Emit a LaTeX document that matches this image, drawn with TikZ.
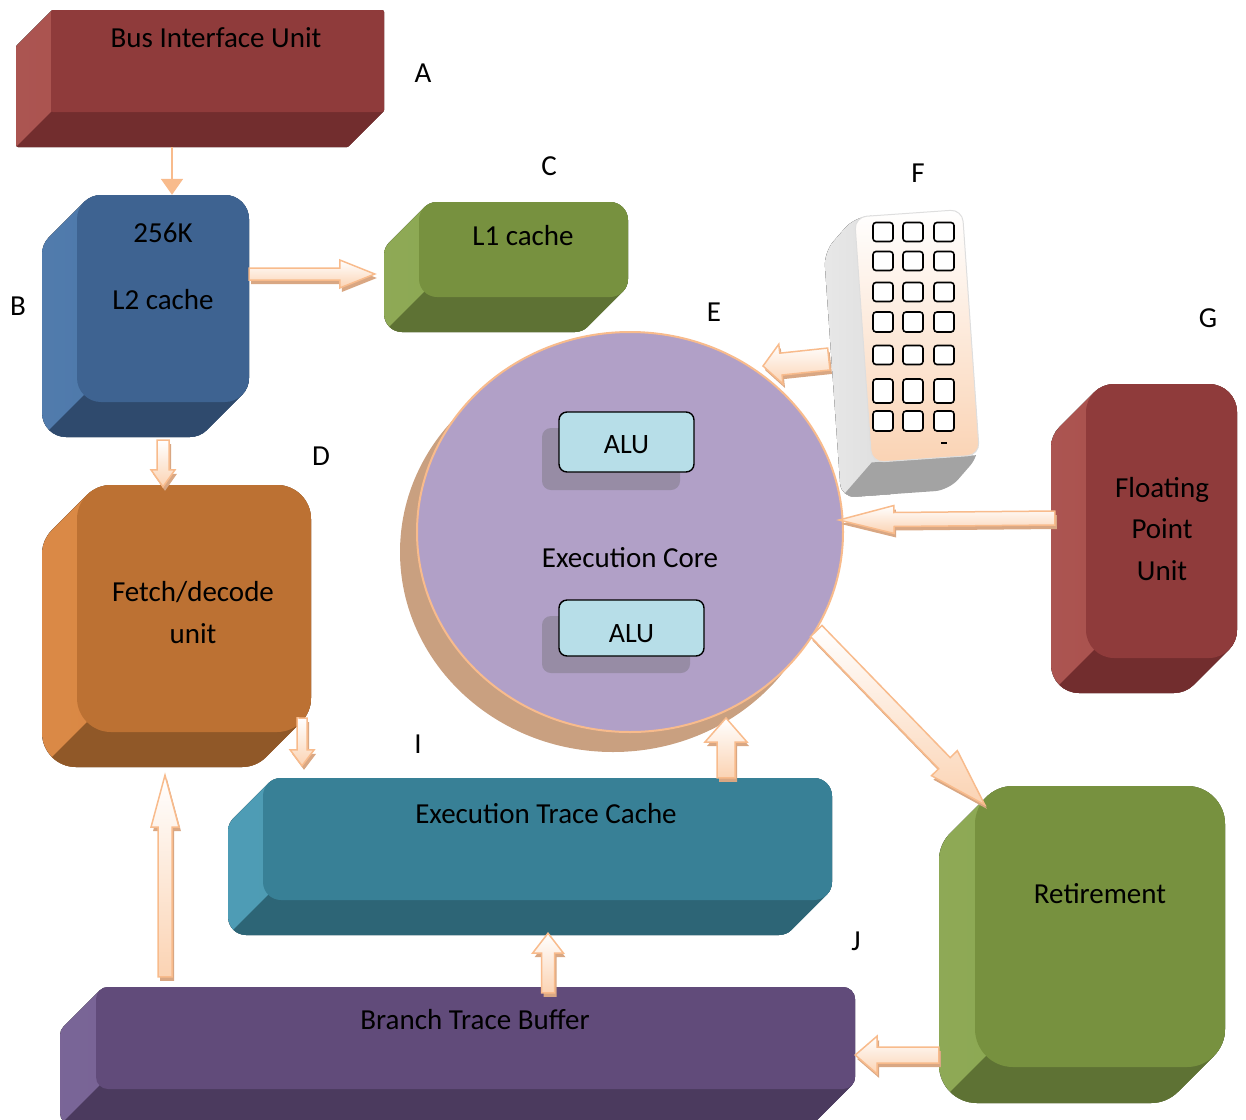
\documentclass[tikz,border=0pt]{standalone}
\usepackage{fontspec}
\setmainfont{Carlito}
\usetikzlibrary{calc,shapes.geometric,arrows.meta}

% face colours of the bevelled blocks: front (F), left side (S), bottom (B)
\definecolor{redF}{HTML}{8F3B3B}
\definecolor{redS}{HTML}{A64A46}
\definecolor{redB}{HTML}{722D2E}
\definecolor{blueF}{HTML}{3E6391}
\definecolor{blueS}{HTML}{4673A7}
\definecolor{blueB}{HTML}{2F4A6D}
\definecolor{greenF}{HTML}{77913F}
\definecolor{greenS}{HTML}{87A44B}
\definecolor{greenB}{HTML}{5E7234}
\definecolor{orangeF}{HTML}{BC7133}
\definecolor{orangeS}{HTML}{D8823B}
\definecolor{orangeB}{HTML}{905828}
\definecolor{tealF}{HTML}{388096}
\definecolor{tealS}{HTML}{4396B0}
\definecolor{tealB}{HTML}{2D6576}
\definecolor{purpleF}{HTML}{614B7A}
\definecolor{purpleS}{HTML}{715B90}
\definecolor{purpleB}{HTML}{4B3A5E}
% arrows, execution core, register file
\definecolor{arrowline}{HTML}{F8BB8C}
\definecolor{arrowfill}{HTML}{FBD3B3}
\definecolor{arrowshadow}{HTML}{D9A783}
\definecolor{coreF}{HTML}{B1A0C7}
\definecolor{coreS}{HTML}{C9A080}
\definecolor{aluF}{HTML}{B7DEE8}
\definecolor{aluS}{HTML}{978CA5}
\definecolor{regF}{HTML}{FAD3B4}
\definecolor{regS}{HTML}{DEDEDE}
\definecolor{regB}{HTML}{A3A3A3}

% bevelled block: name, x0, y0, x1, y1 (outer extent), depth, corner radius, colour family
% the outline is the hull of the front face and its copy shifted by (-depth, +depth)
\newcommand\bevelbox[8]{%
  \pgfmathsetmacro\bvk{0.7071*#7}%
  \def\bvhull{({#2+#6+#7},{#3}) -- ({#4-#7},{#3}) arc[start angle=270, end angle=360, radius=#7]
    -- ({#4},{#5-#6-#7}) arc[start angle=0, end angle=45, radius=#7]
    -- ++({-#6},{#6}) arc[start angle=45, end angle=90, radius=#7]
    -- ({#2+#7},{#5}) arc[start angle=90, end angle=180, radius=#7]
    -- ({#2},{#3+#6+#7}) arc[start angle=180, end angle=225, radius=#7]
    -- ++({#6},{-#6}) arc[start angle=225, end angle=270, radius=#7] -- cycle}%
  \fill[left color=#8S!94!white, right color=#8S] \bvhull;
  \begin{scope}
    \clip \bvhull;
    \fill[#8B] ({#2+#6+#7-\bvk},{#5-#6-#7+\bvk}) -- ++({-#6},{#6}) -- ({#2-5},{#5+5})
      -- ({#4+5},{#5+5}) -- ({#4+5},{#5-#6-#7}) -- ({#2+#6+#7-\bvk},{#5-#6-#7}) -- cycle;
  \end{scope}
  \fill[#8F, rounded corners=#7] ({#2+#6},{#3}) rectangle ({#4},{#5-#6});
  \node[minimum width={#4-#2}, minimum height={#5-#3}] (#1) at ({(#2+#4)/2},{(#3+#5)/2}) {};
}

% outline of a block arrow from (ba-t) to (ba-h), head base at (ba-c)
\newcommand\baoutline[2]{($(ba-t)!#1!90:(ba-h)$) -- ($(ba-c)!#1!90:(ba-h)$) -- ($(ba-c)!#2!90:(ba-h)$)
  -- (ba-h) -- ($(ba-c)!#2!-90:(ba-h)$) -- ($(ba-c)!#1!-90:(ba-h)$) -- ($(ba-t)!#1!-90:(ba-h)$) -- cycle}
% block arrow: tail, tip, half shaft width, half head width, head length
\newcommand\blockarrow[5]{%
  \coordinate (ba-t) at (#1);
  \coordinate (ba-h) at (#2);
  \coordinate (ba-c) at ($(ba-h)!#5!(ba-t)$);
  \fill[arrowshadow, transform canvas={xshift=2pt,yshift=-4pt}] \baoutline{#3}{#4};
  \draw[arrowbody] \baoutline{#3}{#4};
}

\begin{document}
\begin{tikzpicture}[x=1pt,y=-1pt,
  every node/.style={font=\fontsize{29}{35}\selectfont, inner sep=0pt},
  txt/.style={anchor=base, text=black},
  arrowbody/.style={draw=arrowline, line width=1.5pt, top color=white, bottom color=arrowfill},
  alubox/.style={draw=black, line width=1.4pt, fill=aluF, rounded corners=8pt},
  regcell/.style={draw=black, line width=1.6pt, fill=white, rounded corners=3pt}]

\useasboundingbox (0,0) rectangle (1246,1119);
\clip (0,0) rectangle (1246,1119);

% bevelled blocks
\bevelbox{bus}{16}{10}{384}{147}{35}{2}{red}
\bevelbox{l2}{42}{195}{249}{437}{35}{24}{blue}
\bevelbox{l1}{384}{202}{628}{332}{35}{18}{green}
\bevelbox{fetch}{42}{485}{311}{767}{35}{34}{orange}
\bevelbox{trace}{228}{778}{832}{935}{35}{18}{teal}
\bevelbox{branch}{60}{987}{855}{1125}{36}{12}{purple}
\bevelbox{fpu}{1051}{384}{1237}{693}{35}{28}{red}
\bevelbox{ret}{939}{786}{1225}{1103}{36}{38}{green}

% block texts
\node[txt] (t-bus) at (216,47) {Bus Interface Unit};
\node[txt] (t-l2a) at (163,242) {256K};
\node[txt] (t-l2b) at (163,309) {L2 cache};
\node[txt] (t-l1) at (523,245) {L1 cache};
\node[txt] (t-fetcha) at (193,601) {Fetch/decode};
\node[txt] (t-fetchb) at (193,643) {unit};
\node[txt] (t-trace) at (546,823) {Execution Trace Cache};
\node[txt] (t-branch) at (475,1029) {Branch Trace Buffer};
\node[txt] (t-fpua) at (1162,497) {Floating};
\node[txt] (t-fpub) at (1162,538) {Point};
\node[txt] (t-fpuc) at (1162,580) {Unit};
\node[txt] (t-ret) at (1100,903) {Retirement};

% execution core with its two ALUs
\fill[coreS] (613,552) ellipse [x radius=213, y radius=200];
\node[ellipse, fill=coreF, draw=arrowline, line width=2pt, minimum width=426, minimum height=400] (core) at (630,532) {};
\node[txt] (t-core) at (630,567) {Execution Core};
\fill[aluS, rounded corners=9pt] (542,428) rectangle (680,490);
\node[alubox, minimum width=135, minimum height=60] (alu1) at (626.5,442) {};
\node[txt, font=\fontsize{28}{34}\selectfont] (t-alu1) at (626.5,453) {ALU};
\fill[aluS, rounded corners=9pt] (542,616) rectangle (690,673);
\node[alubox, minimum width=145, minimum height=56] (alu2) at (631.5,628) {};
\node[txt, font=\fontsize{28}{34}\selectfont] (t-alu2) at (631.5,642) {ALU};

% register file outline (used for the connector)
\node[minimum width=157, minimum height=287] (regs) at (901.5,351.5) {};

% connectors
\draw[arrowline, line width=2pt, -{Triangle[width=22pt,length=16pt]}] (bus.south -| 172,0) -- (l2.north -| 172,0);
\blockarrow{l2.east |- 0,274}{$(l1.west |- 0,274)+(-9,0)$}{6pt}{14pt}{35pt}
\blockarrow{$(l2.south -| 163,0)+(0,3)$}{$(fetch.north -| 163,0)+(0,2)$}{6pt}{12pt}{17pt}
\blockarrow{$(fetch.east |- 0,718)+(-9,0)$}{$(trace.north -| 302,0)+(0,-12)$}{5pt}{12pt}{16pt}
\blockarrow{trace.north -| 726,0}{$(core.south -| 726,0)+(0,-15)$}{9pt}{21pt}{24pt}
\blockarrow{$(branch.north -| 548,0)+(0,6)$}{$(trace.south -| 548,0)+(0,-2)$}{6.5pt}{15.5pt}{20pt}
\blockarrow{$(branch.north -| 165,0)+(0,-10)$}{$(fetch.south -| 165,0)+(0,8)$}{7pt}{14pt}{52pt}
\blockarrow{$(regs.west |- 0,359)+(6,0)$}{$(core.center)+(133,-166)$}{11pt}{20pt}{18pt}
\blockarrow{$(fpu.west |- 0,518)+(4,0)$}{$(core.east |- 0,520)+(-5,0)$}{7pt}{14pt}{55pt}
\blockarrow{core.-28}{$(ret.north west)+(46,19)$}{8pt}{18pt}{58pt}
\blockarrow{ret.west |- 0,1055}{branch.east |- 0,1055}{8pt}{19pt}{22pt}

% register file block, slightly tilted
\begin{scope}[rotate around={4:(917,336)}]
  \begin{scope}
    \clip[rounded corners=14pt] (830,246) -- (863,213) -- (971,213) -- (971,459) -- (938,492) -- (830,492) -- cycle;
    \fill[left color=regS!70!white, right color=regS] (830,213) rectangle (880,492);
    \fill[regB] (863,459) -- (971,459) -- (971,492) -- (830,492) -- cycle;
  \end{scope}
  \draw[draw=regS, line width=1pt, top color=white, bottom color=regF, rounded corners=12pt] (863,213) rectangle (971,459);
\end{scope}
\foreach \x in {883,913,944}
  \foreach \y/\h in {232/19,261/19,292/19,322/20,355/19,391/24,421/20}
    \draw[regcell] ({\x-10},{\y-\h/2}) rectangle ({\x+10},{\y+\h/2});
\draw[line width=1.3pt] (941,443) -- (947,443);

% labels
\node[txt] (lA) at (423,82) {A};
\node[txt] (lB) at (18,315) {B};
\node[txt] (lC) at (549,175) {C};
\node[txt] (lD) at (321,465) {D};
\node[txt] (lE) at (714,321) {E};
\node[txt] (lF) at (918,182) {F};
\node[txt] (lG) at (1208,327) {G};
\node[txt] (lI) at (418,753) {I};
\node[txt] (lJ) at (856,950) {J};
\end{tikzpicture}
\end{document}
